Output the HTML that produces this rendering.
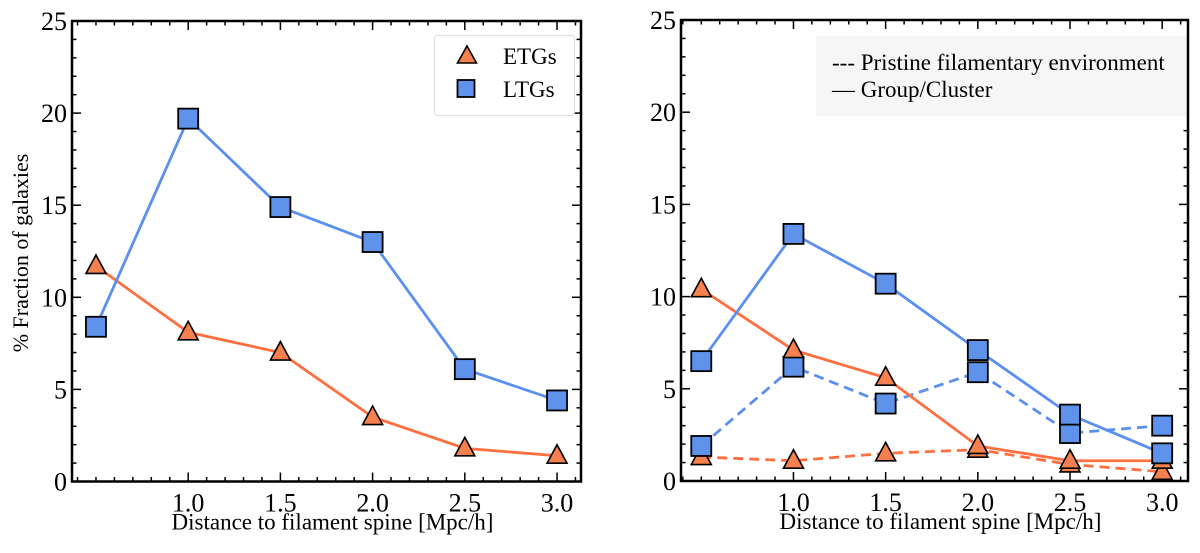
<!DOCTYPE html>
<html><head><meta charset="utf-8"><style>
html,body{margin:0;padding:0;background:#fff;}
svg, svg text{font-family:"Liberation Serif","Times New Roman",serif;}
svg{display:block;}
</style></head><body>
<svg id="chart" width="1200" height="553" viewBox="0 0 1200 553" xmlns="http://www.w3.org/2000/svg"></svg>
<script>
const categories = [0.5, 1.0, 1.5, 2.0, 2.5, 3.0];
const xTickLabels = ["1.0", "1.5", "2.0", "2.5", "3.0"];
const yTickLabels = ["0", "5", "10", "15", "20", "25"];
const leftETG = [11.7, 8.1, 7.0, 3.5, 1.8, 1.4];
const leftLTG = [8.4, 19.7, 14.9, 13.0, 6.1, 4.4];
const rightLTGGroup = [6.5, 13.4, 10.7, 7.1, 3.6, 1.5];
const rightLTGPristine = [1.9, 6.2, 4.2, 5.9, 2.6, 3.0];
const rightETGGroup = [10.4, 7.1, 5.6, 1.9, 1.1, 1.1];
const rightETGPristine = [1.3, 1.1, 1.5, 1.7, 0.9, 0.5];

const NS = "http://www.w3.org/2000/svg";
const svg = document.getElementById("chart");
const FONT = '"Liberation Serif", serif';
const ORANGE = "#ff6f3f", ORFILL = "#f7804f", BLUE = "#5b8ff0", BLFILL = "#5f92ea";
function mk(tag, attrs, parent) {
  const e = document.createElementNS(NS, tag);
  for (const k in attrs) e.setAttribute(k, attrs[k]);
  if (tag === "text") e.setAttribute("font-family", FONT);
  (parent || svg).appendChild(e);
  return e;
}
function panel(name, L, R, T, B, xmin, xmax) {
  const g = mk("g", {});
  
  
  const sx = v => L + (v - xmin) / (xmax - xmin) * (R - L);
  const sy = v => B - v / 25 * (B - T);
  for (let v = 0.4; v <= xmax + 1e-6; v += 0.1) {
    const vv = Math.round(v * 10) / 10;
    if (vv < xmin) continue;
    const major = Math.abs(vv * 2 - Math.round(vv * 2)) < 1e-6 && vv >= 1;
    const len = major ? 9 : 4.5;
    const x = sx(vv);
    mk("line", {x1: x, x2: x, y1: B, y2: B - len, stroke: "#000", "stroke-width": 1.5}, g);
    mk("line", {x1: x, x2: x, y1: T, y2: T + len, stroke: "#000", "stroke-width": 1.5}, g);
  }
  for (let v = 0; v <= 25; v++) {
    const major = v % 5 === 0;
    const len = major ? 9 : 4.5;
    const y = sy(v);
    mk("line", {x1: L, x2: L + len, y1: y, y2: y, stroke: "#000", "stroke-width": 1.5}, g);
    mk("line", {x1: R, x2: R - len, y1: y, y2: y, stroke: "#000", "stroke-width": 1.5}, g);
  }
  xTickLabels.forEach(t => {
    const tx = mk("text", {x: sx(parseFloat(t)), y: B + 30, "text-anchor": "middle", "font-size": 26}, g);
    tx.textContent = t;
    
    
  });
  yTickLabels.forEach(t => {
    const ty = mk("text", {x: L - 5, y: sy(parseFloat(t)) + 9, "text-anchor": "end", "font-size": 26}, g);
    ty.textContent = t;
    
    
  });
  const xl = mk("text", {x: (L + R) / 2 + 6, y: B + 48, "text-anchor": "middle", "font-size": 23}, g);
  xl.textContent = "Distance to filament spine [Mpc/h]";
  
  
  return {g, sx, sy, L, R, T, B};
}
function frame(p) {
  const f = mk("rect", {x: p.L, y: p.T, width: p.R - p.L, height: p.B - p.T, fill: "none", stroke: "#000", "stroke-width": 2.5}, p.g);
  
  
}
function series(p, vals, color, fill, marker, dashed, name) {
  const pts = vals.map((v, i) => p.sx(categories[i]) + "," + p.sy(v)).join(" ");
  const pl = mk("polyline", {points: pts, fill: "none", stroke: color, "stroke-width": 2.8, "stroke-dasharray": dashed ? "10,6" : "none"}, p.g);
  
  
  vals.forEach((v, i) => {
    const x = p.sx(categories[i]), y = p.sy(v);
    let m;
    if (marker === "sq") m = mk("rect", {x: x - 10, y: y - 10, width: 20, height: 20, fill: fill, stroke: "#000", "stroke-width": 1.8}, p.g);
    else m = mk("polygon", {points: `${x},${y - 11} ${x - 10},${y + 7.5} ${x + 10},${y + 7.5}`, fill: fill, stroke: "#000", "stroke-width": 1.6}, p.g);
    
    
  });
}
const P1 = panel("left-panel", 72, 581, 21, 481.5, 0.37, 3.13);
series(P1, leftETG, ORANGE, ORFILL, "tri", false, "etg");
series(P1, leftLTG, BLUE, BLFILL, "sq", false, "ltg");
frame(P1);
const yl = mk("text", {x: 0, y: 0, "text-anchor": "middle", "font-size": 22, transform: "translate(28,253) rotate(-90)"});
yl.textContent = "% Fraction of galaxies";


const lg = mk("g", {});


mk("rect", {x: 434.5, y: 35.5, width: 140, height: 80, rx: 3, fill: "#fff", stroke: "#ddd", "stroke-width": 1}, lg);
mk("polygon", {points: "467,46 457.5,63 476.5,63", fill: ORFILL, stroke: "#000", "stroke-width": 1.6}, lg);
mk("rect", {x: 457.5, y: 80, width: 17, height: 17, fill: BLFILL, stroke: "#000", "stroke-width": 1.8}, lg);
const t1 = mk("text", {x: 503, y: 64, "font-size": 23}, lg); t1.textContent = "ETGs";
 
const t2 = mk("text", {x: 503, y: 97, "font-size": 23}, lg); t2.textContent = "LTGs";
 
const P2 = panel("right-panel", 681, 1188, 20, 481, 0.39, 3.14);
const rl = mk("rect", {x: 816, y: 36, width: 372, height: 80, fill: "#f6f6f6"}, P2.g);


const r1 = mk("text", {x: 832, y: 70, "font-size": 23}, P2.g); r1.textContent = "--- Pristine filamentary environment";
 
const r2 = mk("text", {x: 832, y: 97, "font-size": 23}, P2.g); r2.textContent = "— Group/Cluster";
 
series(P2, rightETGPristine, ORANGE, ORFILL, "tri", true, "etg-pristine");
series(P2, rightLTGPristine, BLUE, BLFILL, "sq", true, "ltg-pristine");
series(P2, rightETGGroup, ORANGE, ORFILL, "tri", false, "etg-group");
series(P2, rightLTGGroup, BLUE, BLFILL, "sq", false, "ltg-group");
frame(P2);
</script>
</body></html>
